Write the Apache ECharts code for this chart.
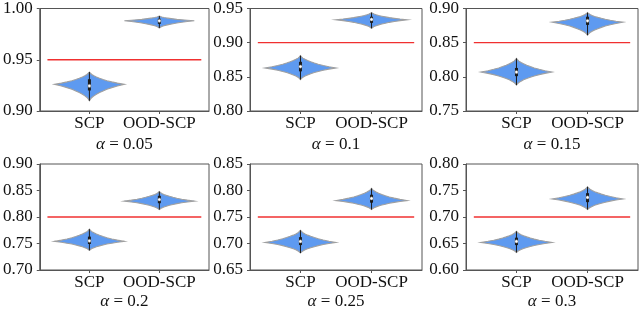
<!DOCTYPE html>
<html>
<head>
<meta charset="utf-8">
<script src="https://cdn.jsdelivr.net/npm/echarts/dist/echarts.min.js"></script>
<style>
html,body{margin:0;padding:0;background:#fff;}
#chart{width:640px;height:311px;}
</style>
</head>
<body>
<div id="chart"></div>
<script>
// ---- data ----
const categories = ['SCP', 'OOD-SCP'];
const alphas = ['0.05', '0.1', '0.15', '0.2', '0.25', '0.3'];
const targetLevels = [0.95, 0.90, 0.85, 0.80, 0.75, 0.70];
const yMins = [0.90, 0.80, 0.75, 0.70, 0.65, 0.60];
const yMaxs = [1.00, 0.95, 0.90, 0.90, 0.85, 0.80];
const yTickStep = 0.05;

// SCP coverage distributions
const scpLow    = [0.910, 0.846, 0.788, 0.737, 0.682, 0.633];
const scpQ1     = [0.920, 0.858, 0.801, 0.749, 0.697, 0.647];
const scpMode   = [0.926, 0.863, 0.807, 0.754, 0.702, 0.652];
const scpMedian = [0.9245, 0.865, 0.807, 0.755, 0.704, 0.654];
const scpQ3     = [0.931, 0.872, 0.813, 0.763, 0.712, 0.661];
const scpHigh   = [0.938, 0.881, 0.827, 0.777, 0.725, 0.673];

// OOD-SCP coverage distributions
const oodLow    = [0.981, 0.921, 0.861, 0.814, 0.764, 0.714];
const oodQ1     = [0.985, 0.929, 0.876, 0.826, 0.777, 0.728];
const oodMode   = [0.988, 0.9335, 0.880, 0.830, 0.781, 0.734];
const oodMedian = [0.988, 0.934, 0.882, 0.833, 0.785, 0.737];
const oodQ3     = [0.990, 0.938, 0.888, 0.840, 0.792, 0.745];
const oodHigh   = [0.9927, 0.944, 0.894, 0.848, 0.804, 0.757];

// relative density from the widest point (0) to a tip (1)
const densityProfile = [1, 0.8, 0.64, 0.5, 0.39, 0.29, 0.2, 0.13, 0.07, 0.03, 0];

// ---- layout ----
const FONT = 'Liberation Serif';
const colLeft = [37, 250, 466];
const gridW = 172;
const rowTop = [5, 164];
const rowH = [106, 108];
const nameGaps = [25, 23];

const grids = [], xAxes = [], yAxes = [], series = [];

function violinRender(params, api) {
  const pos = api.value(0), lo = api.value(1), mode = api.value(2), hi = api.value(3);
  const q1 = api.value(4), med = api.value(5), q3 = api.value(6);
  const halfW = 0.5;
  const n = densityProfile.length - 1;
  const right = [], left = [];
  for (let i = n; i >= 0; i--) {
    const y = mode + (hi - mode) * i / n;
    right.push(api.coord([pos + halfW * densityProfile[i], y]));
    left.push(api.coord([pos - halfW * densityProfile[i], y]));
  }
  for (let i = 1; i <= n; i++) {
    const y = mode + (lo - mode) * i / n;
    right.push(api.coord([pos + halfW * densityProfile[i], y]));
    left.push(api.coord([pos - halfW * densityProfile[i], y]));
  }
  const pts = right.concat(left.reverse());
  const cLo = api.coord([pos, lo]), cHi = api.coord([pos, hi]);
  const cQ1 = api.coord([pos, q1]), cQ3 = api.coord([pos, q3]), cMed = api.coord([pos, med]);
  return {
    type: 'group',
    children: [
      { type: 'polygon', shape: { points: pts, smooth: 0 },
        style: { fill: '#5e9af0', stroke: '#a0a0a0', lineWidth: 1.1 } },
      { type: 'line', shape: { x1: cLo[0], y1: cLo[1], x2: cHi[0], y2: cHi[1] },
        style: { stroke: '#1a1a1a', lineWidth: 1 } },
      { type: 'line', shape: { x1: cQ1[0], y1: cQ1[1], x2: cQ3[0], y2: cQ3[1] },
        style: { stroke: '#1a1a1a', lineWidth: 3 } },
      { type: 'circle', shape: { cx: cMed[0], cy: cMed[1], r: 1.6 },
        style: { fill: '#ffffff', stroke: '#777', lineWidth: 0.5 } }
    ]
  };
}

for (let k = 0; k < 6; k++) {
  const r = Math.floor(k / 3), c = k % 3;
  grids.push({ left: colLeft[c], top: rowTop[r], width: gridW, height: rowH[r],
    show: true, borderColor: '#555', borderWidth: 1, backgroundColor: 'transparent' });
  xAxes.push({
    gridIndex: k, type: 'value', min: 0.29, max: 2.71,
    splitLine: { show: false },
    axisLine: { show: true, lineStyle: { color: '#555', width: 1 } },
    axisTick: { show: true, customValues: [1, 2], length: 3, lineStyle: { color: '#555' } },
    axisLabel: { show: true, customValues: [1, 2], margin: 4,
      formatter: v => categories[Math.round(v) - 1] || '',
      fontFamily: FONT, fontSize: 17, color: '#111' },
    name: '{a|α} = ' + alphas[k],
    nameLocation: 'middle', nameGap: nameGaps[r],
    nameTextStyle: { fontFamily: FONT, fontSize: 17, color: '#111',
      rich: { a: { fontFamily: FONT, fontSize: 17, fontStyle: 'italic', color: '#111' } } }
  });
  yAxes.push({
    gridIndex: k, type: 'value', min: yMins[k], max: yMaxs[k], interval: yTickStep,
    splitLine: { show: false },
    axisLine: { show: true, lineStyle: { color: '#555', width: 1 } },
    axisTick: { show: true, length: 3, lineStyle: { color: '#555' } },
    axisLabel: { margin: 7, formatter: v => v.toFixed(2),
      fontFamily: FONT, fontSize: 17, color: '#111' }
  });
  series.push({
    type: 'line', xAxisIndex: k, yAxisIndex: k, silent: true, symbol: 'none',
    data: [[0.4, targetLevels[k]], [2.6, targetLevels[k]]],
    lineStyle: { color: '#f03030', width: 1.4 }, z: 1
  });
  series.push({
    type: 'custom', xAxisIndex: k, yAxisIndex: k, silent: true, z: 3,
    renderItem: violinRender,
    data: [
      [1, scpLow[k], scpMode[k], scpHigh[k], scpQ1[k], scpMedian[k], scpQ3[k]],
      [2, oodLow[k], oodMode[k], oodHigh[k], oodQ1[k], oodMedian[k], oodQ3[k]]
    ]
  });
}

const chart = echarts.init(document.getElementById('chart'), null, { renderer: 'canvas' });
chart.setOption({
  animation: false,
  backgroundColor: '#fff',
  grid: grids, xAxis: xAxes, yAxis: yAxes, series: series
});
</script>
</body>
</html>
